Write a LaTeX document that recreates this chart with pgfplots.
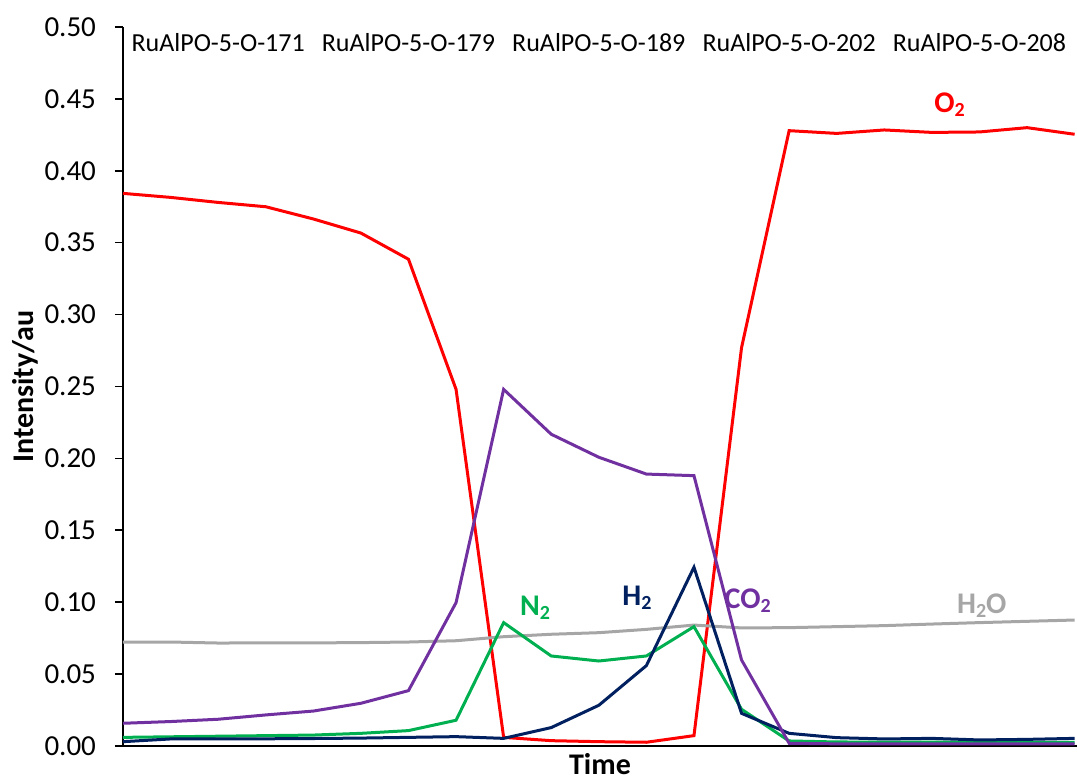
\documentclass[border=0pt]{standalone}
\usepackage{pgfplots}
\pgfplotsset{compat=1.18}
\usepackage{fontspec}
\setmainfont{Carlito}
\usetikzlibrary{calc}

\definecolor{o2red}{HTML}{FF0000}
\definecolor{n2green}{HTML}{00B050}
\definecolor{h2navy}{HTML}{002060}
\definecolor{co2purple}{HTML}{7030A0}
\definecolor{h2ogray}{HTML}{A6A6A6}

% lowered subscript, as in the series names
\newcommand{\sub}[1]{\raisebox{-0.25ex}{\fontsize{10}{12}\selectfont #1}}

\begin{document}
\begin{tikzpicture}
\begin{axis}[
  name=ax,
  scale only axis,
  width=477pt, height=359.5pt,
  xmin=0, xmax=20.05,
  ymin=0, ymax=0.5,
  axis x line=bottom, axis y line=left,
  axis line style={-, line width=1pt, black},
  xtick=\empty,
  ytick={0,0.05,...,0.5},
  tick align=outside,
  major tick length=4pt,
  tick style={line width=0.8pt, black},
  yticklabel style={/pgf/number format/fixed, /pgf/number format/precision=2,
    /pgf/number format/fixed zerofill, /pgf/number format/assume math mode=true,
    font=\fontsize{14.5}{16}\selectfont, xshift=-6pt},
  xlabel={\textbf{Time}},
  ylabel={\textbf{Intensity/au}},
  xlabel style={at={(axis description cs:0.5,-0.025)}, anchor=center, inner sep=0.5pt,
    font=\fontsize{15}{17}\selectfont},
  ylabel style={at={(axis description cs:-0.1027,0.5)}, anchor=center,
    font=\fontsize{15}{17}\selectfont},
  clip=false,
  every axis plot/.append style={line width=1.5pt, mark=none},
]
% O2
\addplot[o2red] coordinates {
(0,0.3843) (1,0.3815) (2,0.378) (3,0.375) (4,0.3665) (5,0.3567) (6,0.3385)
(7,0.248) (8,0.006) (9,0.0037) (10,0.003) (11,0.0026) (12,0.0072)
(13,0.277) (14,0.4279) (15,0.426) (16,0.4284) (17,0.4267) (18,0.427)
(19,0.430) (20,0.4254)};
% H2O
\addplot[h2ogray] coordinates {
(0,0.0723) (1,0.0723) (2,0.0716) (3,0.0717) (4,0.0717) (5,0.0719) (6,0.0723)
(7,0.0732) (8,0.076) (9,0.0777) (10,0.0788) (11,0.0811) (12,0.0841)
(13,0.0821) (14,0.0823) (15,0.083) (16,0.0837) (17,0.0848) (18,0.0858)
(19,0.0867) (20,0.0876)};
% N2
\addplot[n2green] coordinates {
(0,0.006) (1,0.0064) (2,0.0068) (3,0.0072) (4,0.0076) (5,0.0088) (6,0.0107)
(7,0.0179) (8,0.0858) (9,0.0626) (10,0.0591) (11,0.0626) (12,0.083)
(13,0.0255) (14,0.0035) (15,0.0028) (16,0.0027) (17,0.0027) (18,0.0026)
(19,0.0026) (20,0.0026)};
% H2
\addplot[h2navy] coordinates {
(0,0.003) (1,0.0049) (2,0.005) (3,0.005) (4,0.0052) (5,0.0055) (6,0.006)
(7,0.0065) (8,0.0053) (9,0.0128) (10,0.0283) (11,0.0559) (12,0.1243)
(13,0.0227) (14,0.0088) (15,0.0058) (16,0.0049) (17,0.0053) (18,0.0042)
(19,0.0046) (20,0.0053)};
% CO2
\addplot[co2purple] coordinates {
(0,0.0158) (1,0.017) (2,0.0186) (3,0.0216) (4,0.0243) (5,0.0297) (6,0.0385)
(7,0.0997) (8,0.248) (9,0.2168) (10,0.2008) (11,0.1891) (12,0.188)
(13,0.0598) (14,0.0019) (15,0.0015) (16,0.0015) (17,0.0015) (18,0.0015)
(19,0.0015) (20,0.0015)};

% series names
\begin{scope}[font=\fontsize{15}{17}\selectfont\bfseries]
\node[text=o2red] at (axis cs:17.37,0.4458) {O\sub{2}};
\node[text=n2green] at (axis cs:8.66,0.096) {N\sub{2}};
\node[text=h2navy] at (axis cs:10.8,0.103) {H\sub{2}};
\node[text=co2purple] at (axis cs:13.13,0.101) {CO\sub{2}};
\node[text=h2ogray] at (axis cs:18.05,0.0974) {H\sub{2}O};
\end{scope}

% sample names along the top
\begin{scope}[font=\fontsize{13}{15}\selectfont]
\node at (axis cs:2,0.4889) {RuAlPO-5-O-171};
\node at (axis cs:6,0.4889) {RuAlPO-5-O-179};
\node at (axis cs:10,0.4889) {RuAlPO-5-O-189};
\node at (axis cs:14,0.4889) {RuAlPO-5-O-202};
\node at (axis cs:18,0.4889) {RuAlPO-5-O-208};
\end{scope}
\end{axis}
\pgfresetboundingbox
\path ($(ax.south west)+(-61.5pt,-17.5pt)$) rectangle ($(ax.north east)+(0pt,13.5pt)$);
\end{tikzpicture}
\end{document}
